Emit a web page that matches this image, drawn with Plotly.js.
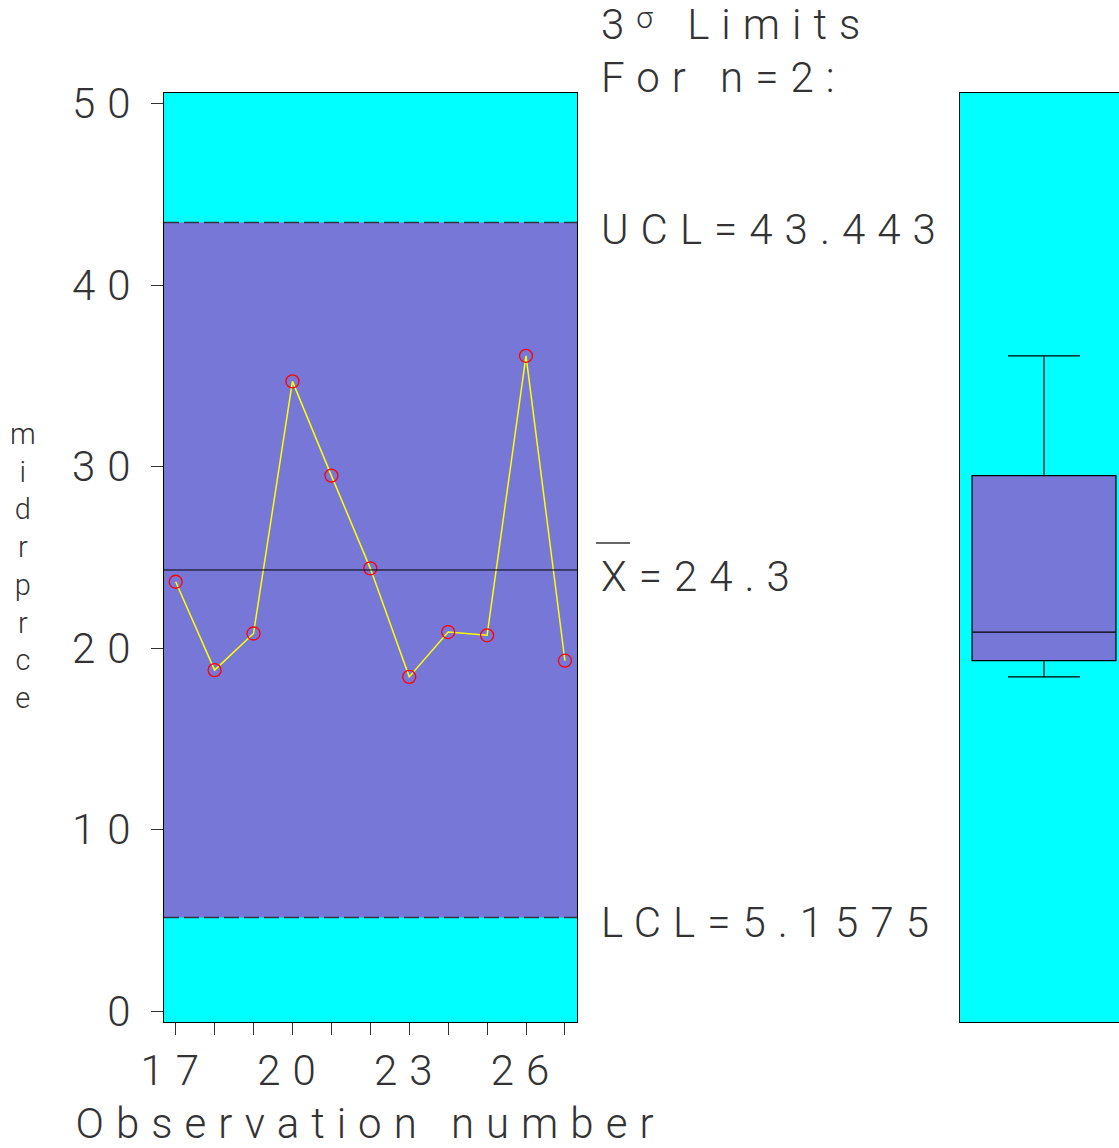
<!DOCTYPE html>
<html>
<head>
<meta charset="utf-8">
<script src="https://cdn.plot.ly/plotly-3.0.1.min.js"></script>
<style>
  body { margin: 0; background: #fff; }
  #chart { width: 1119px; height: 1148px; }
  /* wide, even letter spacing like the plotter font (also applies to plotly's text measuring) */
  text { letter-spacing: 12px; }
</style>
</head>
<body>
<div id="chart"></div>
<script>
// observations and measured values
const obs = [17, 18, 19, 20, 21, 22, 23, 24, 25, 26, 27];
const midrprce = [23.65, 18.78, 20.8, 34.69, 29.5, 24.39, 18.41, 20.88, 20.7, 36.1, 19.3];

// tick labels
const xTickText = ["17", "", "", "20", "", "", "23", "", "", "26", ""];
const yTickVals = [0, 10, 20, 30, 40, 50];

// control limits
const ucl = 43.443;
const lcl = 5.1575;
const centre = 24.3;

const W = 1119;
const H = 1148;
const FONT = { family: "Roboto", size: 42, color: "#333", weight: 300 };
const CYAN = "#00ffff";
const PURPLE = "#7777d8";

function px(x) { return x / W; }
function py(y) { return 1 - y / H; }

const lineTrace = {
  x: obs,
  y: midrprce,
  type: "scatter",
  mode: "lines+markers",
  line: { color: "#ffff00", width: 1.5 },
  marker: { symbol: "circle-open", size: 13, color: "#ff0000", line: { width: 1.3 } },
  xaxis: "x",
  yaxis: "y",
  hoverinfo: "x+y",
};

const boxTrace = {
  y: midrprce,
  x0: 0,
  type: "box",
  width: 1.44,
  whiskerwidth: 0.5,
  quartilemethod: "exclusive",
  boxpoints: false,
  fillcolor: PURPLE,
  line: { color: "#000", width: 1.2 },
  xaxis: "x2",
  yaxis: "y2",
};

function label(text, y, yref, yshift) {
  return {
    text: text,
    xref: "paper",
    yref: yref,
    x: px(599),
    y: y,
    yshift: yshift,
    xanchor: "left",
    yanchor: "middle",
    align: "left",
    showarrow: false,
    font: FONT,
  };
}

var layout = {
  width: W,
  height: H,
  margin: { l: 0, r: 0, t: 0, b: 0 },
  paper_bgcolor: "#fff",
  plot_bgcolor: CYAN,
  showlegend: false,
  font: FONT,
  xaxis: {
    domain: [px(164), px(577)],
    range: [16.7, 27.31],
    tickvals: obs,
    ticktext: xTickText,
    ticks: "outside",
    ticklen: 12,
    tickcolor: "#333",
    showgrid: false,
    zeroline: false,
    showline: true,
    linecolor: "#000",
    mirror: true,
    tickfont: FONT,
    title: { text: "Observation number", font: FONT, standoff: 20 },
  },
  yaxis: {
    domain: [py(1022), py(93)],
    range: [-0.606, 50.58],
    tickvals: yTickVals,
    ticks: "outside",
    ticklen: 12,
    tickcolor: "#333",
    showgrid: false,
    zeroline: false,
    showline: true,
    linecolor: "#000",
    mirror: true,
    tickfont: FONT,
  },
  xaxis2: {
    domain: [px(960), 1],
    range: [-0.84, 0.75],
    anchor: "y2",
    showticklabels: false,
    ticks: "",
    showgrid: false,
    zeroline: false,
    showline: true,
    linecolor: "#000",
    mirror: "all",
  },
  yaxis2: {
    domain: [py(1022), py(93)],
    range: [-0.606, 50.58],
    anchor: "x2",
    showticklabels: false,
    ticks: "",
    showgrid: false,
    zeroline: false,
    showline: true,
    linecolor: "#000",
  },
  shapes: [
    {
      type: "rect", layer: "below", xref: "x domain", yref: "y",
      x0: 0, x1: 1, y0: lcl, y1: ucl,
      fillcolor: PURPLE, line: { width: 0 },
    },
    {
      type: "line", xref: "x domain", yref: "y",
      x0: 0, x1: 1, y0: ucl, y1: ucl,
      line: { color: "#334", width: 1.5, dash: "15px,5px" },
    },
    {
      type: "line", xref: "x domain", yref: "y",
      x0: 0, x1: 1, y0: lcl, y1: lcl,
      line: { color: "#334", width: 1.5, dash: "15px,5px" },
    },
    {
      type: "line", xref: "x domain", yref: "y",
      x0: 0, x1: 1, y0: centre, y1: centre,
      line: { color: "#000", width: 1 },
    },
    // bar over the X of the centre-line label
    {
      type: "line", xref: "paper", yref: "paper",
      x0: px(596), x1: px(630), y0: py(543), y1: py(543),
      line: { color: "#333", width: 1.5 },
    },
  ],
  annotations: [
    label('3<span style="font-size:30px;baseline-shift:11px">σ</span> Limits', py(25), "paper", 0),
    label("For n=2:", py(77), "paper", 0),
    label("UCL=" + ucl, ucl, "y", -7),
    label("X=" + centre, centre, "y", -7),
    label("LCL=" + lcl, lcl, "y", -5),
    {
      // y-axis title: upright letters stacked
      text: "midrprce".split("").join("<br>"),
      xref: "paper",
      yref: "paper",
      x: px(29),
      y: py(566),
      xanchor: "center",
      yanchor: "middle",
      showarrow: false,
      font: Object.assign({}, FONT, { size: 29 }),
    },
  ],
};

Plotly.newPlot("chart", [lineTrace, boxTrace], layout, { displayModeBar: false, staticPlot: true });
</script>
</body>
</html>
